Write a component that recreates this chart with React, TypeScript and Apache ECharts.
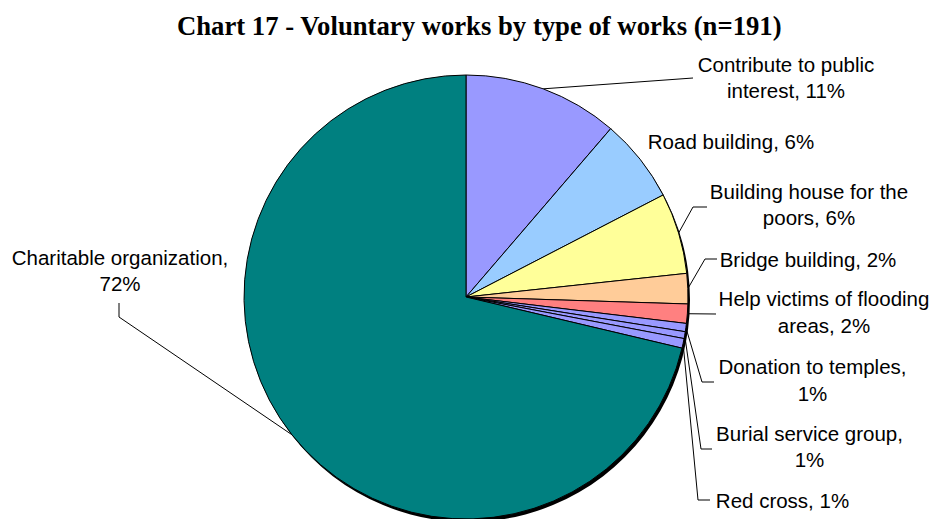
import React, { useEffect, useRef } from "react";
import * as echarts from "echarts";

const chartTitle = "Chart 17 - Voluntary works by type of works (n=191)";
const categories = [
  "Contribute to public interest",
  "Road building",
  "Building house for the poors",
  "Bridge building",
  "Help victims of flooding areas",
  "Donation to temples",
  "Burial service group",
  "Red cross",
  "Charitable organization",
];
const shares = [11.3, 6.1, 5.9, 2.2, 1.4, 0.6, 0.5, 0.7, 71.3];
const shownPercents = [11, 6, 6, 2, 2, 1, 1, 1, 72];
const sliceColors = [
  "#9999FF",
  "#99CCFF",
  "#FFFF99",
  "#FFCC99",
  "#FF8080",
  "#9999FF",
  "#9999FF",
  "#9999FF",
  "#008080",
];

// layout (not data)
const CX = 466;
const CY = 297;
const R = 222;
type LL = { x: number; y: number; split: number; line: number[][] | null };
const labelLayouts: LL[] = [
  { x: 786, y: 77.7, split: 3, line: [[693, 78], [693, 78]] },
  { x: 731, y: 141.2, split: 0, line: null },
  { x: 809, y: 204.4, split: 4, line: [[693, 207], [707, 207]] },
  { x: 808, y: 259.5, split: 0, line: [[705, 259], [717, 259]] },
  { x: 824, y: 311.9, split: 4, line: [[716, 314], [716, 314]] },
  { x: 812.5, y: 379.9, split: 3, line: [[702, 382], [714, 382]] },
  { x: 809.5, y: 446.6, split: 3, line: [[701, 449], [712, 449]] },
  { x: 782.5, y: 500, split: 0, line: [[698, 500], [710, 500]] },
  { x: 120, y: 270.7, split: 2, line: [[119, 317], [119, 303]] },
];

function labelText(i: number): string {
  const full = `${categories[i]}, ${shownPercents[i]}%`;
  const split = labelLayouts[i].split;
  if (!split) return full;
  const words = full.split(" ");
  return words.slice(0, split).join(" ") + "\n" + words.slice(split).join(" ");
}

function edgePoint(i: number): number[] {
  const total = shares.reduce((a, b) => a + b, 0);
  let before = 0;
  for (let k = 0; k < i; k++) before += shares[k];
  const frac = (before + shares[i] / 2) / total;
  const th = frac * Math.PI * 2;
  return [CX + R * Math.sin(th), CY - R * Math.cos(th)];
}

export default function App() {
  const ref = useRef<HTMLDivElement>(null);
  useEffect(() => {
    if (!ref.current) return;
    const chart = echarts.init(ref.current, undefined, { renderer: "svg" });
    const total = shares.reduce((a, b) => a + b, 0);
    chart.setOption({
      animation: false,
      backgroundColor: "#ffffff",
      title: {
        text: chartTitle,
        left: 172,
        top: 7,
        textStyle: {
          fontFamily: "Liberation Serif",
          fontWeight: "bold",
          fontSize: 26.7,
          color: "#000",
        },
      },
      series: [
        {
          type: "pie",
          silent: true,
          center: [CX + 2, CY + 3],
          radius: R,
          startAngle: 90,
          label: { show: false },
          labelLine: { show: false },
          itemStyle: { color: "#000", borderWidth: 0 },
          data: [{ value: total, name: "shadow" }],
          z: 1,
        },
        {
          type: "pie",
          center: [CX, CY],
          radius: R,
          startAngle: 90,
          clockwise: true,
          avoidLabelOverlap: false,
          z: 2,
          itemStyle: { borderColor: "#000", borderWidth: 1 },
          label: {
            show: true,
            position: "outside",
            fontFamily: "Liberation Sans",
            fontSize: 20.5,
            lineHeight: 26.5,
            color: "#000",
            align: "center",
            formatter: (p: any) => labelText(p.dataIndex),
          },
          labelLine: {
            show: true,
            lineStyle: { color: "#000", width: 1 },
          },
          labelLayout: (params: any) => {
            const i = params.dataIndex;
            const L = labelLayouts[i];
            if (!L) return {};
            const out: any = {
              x: L.x,
              y: L.y,
              align: "center",
              verticalAlign: "middle",
            };
            if (L.line) {
              out.labelLinePoints = [edgePoint(i), L.line[0], L.line[1]];
            }
            return out;
          },
          data: categories.map((name, i) => ({
            name,
            value: shares[i],
            itemStyle: { color: sliceColors[i] },
            labelLine: { show: labelLayouts[i].line !== null },
          })),
        },
      ],
    });
    return () => chart.dispose();
  }, []);
  return (
    <div
      ref={ref}
      style={{ position: "fixed", left: 0, top: 0, width: 931, height: 519 }}
    />
  );
}
